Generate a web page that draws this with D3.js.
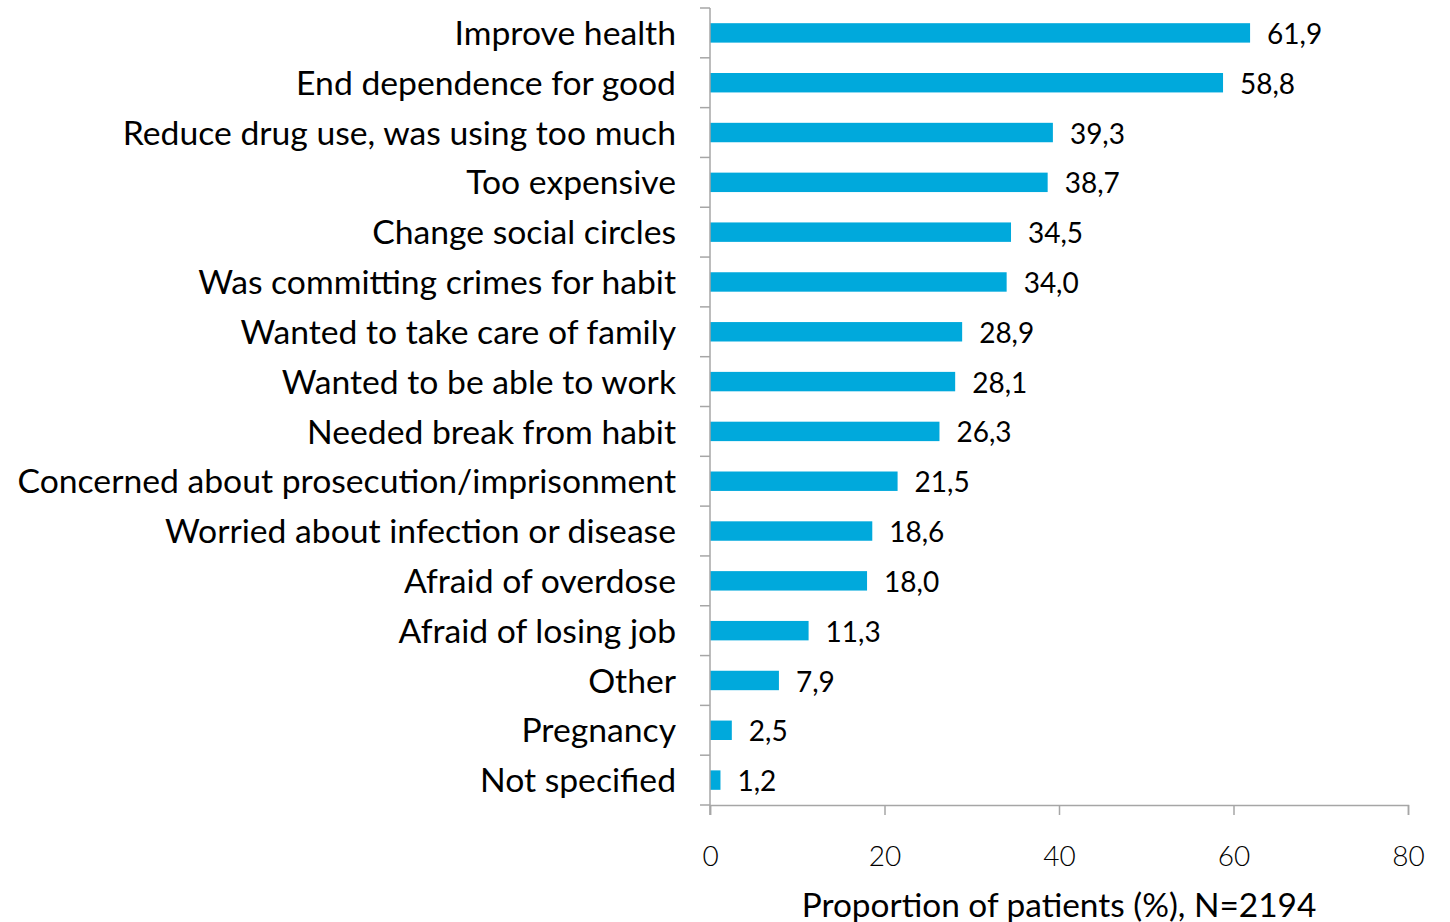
<!DOCTYPE html>
<html>
<head>
<meta charset="utf-8">
<script src="https://cdn.jsdelivr.net/npm/d3@7"></script>
<style>
  html, body { margin: 0; padding: 0; background: #fff; }
  text { font-family: Lato, "Open Sans", sans-serif; }
</style>
</head>
<body>
<svg id="chart" width="1450" height="922"></svg>
<script>
// Reasons for quitting, proportion of patients (%)
const categories = [
  "Improve health",
  "End dependence for good",
  "Reduce drug use, was using too much",
  "Too expensive",
  "Change social circles",
  "Was committing crimes for habit",
  "Wanted to take care of family",
  "Wanted to be able to work",
  "Needed break from habit",
  "Concerned about prosecution/imprisonment",
  "Worried about infection or disease",
  "Afraid of overdose",
  "Afraid of losing job",
  "Other",
  "Pregnancy",
  "Not specified"
];
const values = [61.9, 58.8, 39.3, 38.7, 34.5, 34.0, 28.9, 28.1, 26.3, 21.5, 18.6, 18.0, 11.3, 7.9, 2.5, 1.2];
const xTicks = [0, 20, 40, 60, 80];
const xTitle = "Proportion of patients (%), N=2194";

const svg = d3.select("#chart");
const margin = { left: 710, right: 42, top: 8, bottom: 117 };
const W = 1450, H = 922;

const x = d3.scaleLinear().domain([0, 80]).range([margin.left, W - margin.right]);
const y = d3.scaleBand().domain(categories).range([margin.top, H - margin.bottom]).paddingInner(0.61).paddingOuter(0.305);
const band = d3.scaleBand().domain(categories).range([margin.top, H - margin.bottom]);

const axisColor = "#a6a6a6";
const fmt = v => d3.format(".1f")(v).replace(".", ",");

// bars
svg.append("g").selectAll("rect").data(categories).join("rect")
  .attr("x", x(0))
  .attr("y", d => y(d))
  .attr("width", (d, i) => x(values[i]) - x(0))
  .attr("height", y.bandwidth())
  .attr("fill", "#00a9dc");

// value labels
svg.append("g").selectAll("text").data(categories).join("text")
  .attr("x", (d, i) => x(values[i]) + 17)
  .attr("y", d => y(d) + y.bandwidth() / 2 + 1)
  .attr("dy", "0.36em")
  .attr("font-size", 28)
  .attr("font-weight", 400)
  .attr("fill", "#000")
  .text((d, i) => fmt(values[i]));

// y axis: line with tick marks at band boundaries
const yAxis = svg.append("g");
yAxis.append("line")
  .attr("x1", x(0)).attr("x2", x(0))
  .attr("y1", margin.top).attr("y2", H - margin.bottom + 10)
  .attr("stroke", axisColor).attr("stroke-width", 1.5);
const boundaries = categories.map(c => band(c)).concat([H - margin.bottom]);
yAxis.selectAll("line.tick").data(boundaries).join("line")
  .attr("class", "tick")
  .attr("x1", x(0) - 10).attr("x2", x(0))
  .attr("y1", d => d).attr("y2", d => d)
  .attr("stroke", axisColor).attr("stroke-width", 1.5);

// category labels
svg.append("g").selectAll("text").data(categories).join("text")
  .attr("x", 676)
  .attr("y", d => band(d) + band.bandwidth() / 2)
  .attr("dy", "0.36em")
  .attr("text-anchor", "end")
  .attr("font-size", 33.7)
  .attr("font-weight", 400)
  .attr("fill", "#000")
  .text(d => d);

// x axis
const xAxis = svg.append("g").attr("transform", `translate(0,${H - margin.bottom})`)
  .call(d3.axisBottom(x).tickValues(xTicks).tickSize(10).tickPadding(31).tickFormat(d3.format("d")));
xAxis.select(".domain").attr("stroke", axisColor).attr("stroke-width", 1.5);
xAxis.selectAll(".tick line").attr("stroke", axisColor).attr("stroke-width", 1.5);
xAxis.selectAll(".tick text")
  .attr("font-family", "Lato, sans-serif")
  .attr("font-size", 28)
  .attr("font-weight", 300)
  .attr("fill", "#000");

svg.append("text")
  .attr("x", (x(0) + x(80)) / 2)
  .attr("y", 917)
  .attr("text-anchor", "middle")
  .attr("font-size", 33.4)
  .attr("fill", "#000")
  .text(xTitle);
</script>
</body>
</html>
